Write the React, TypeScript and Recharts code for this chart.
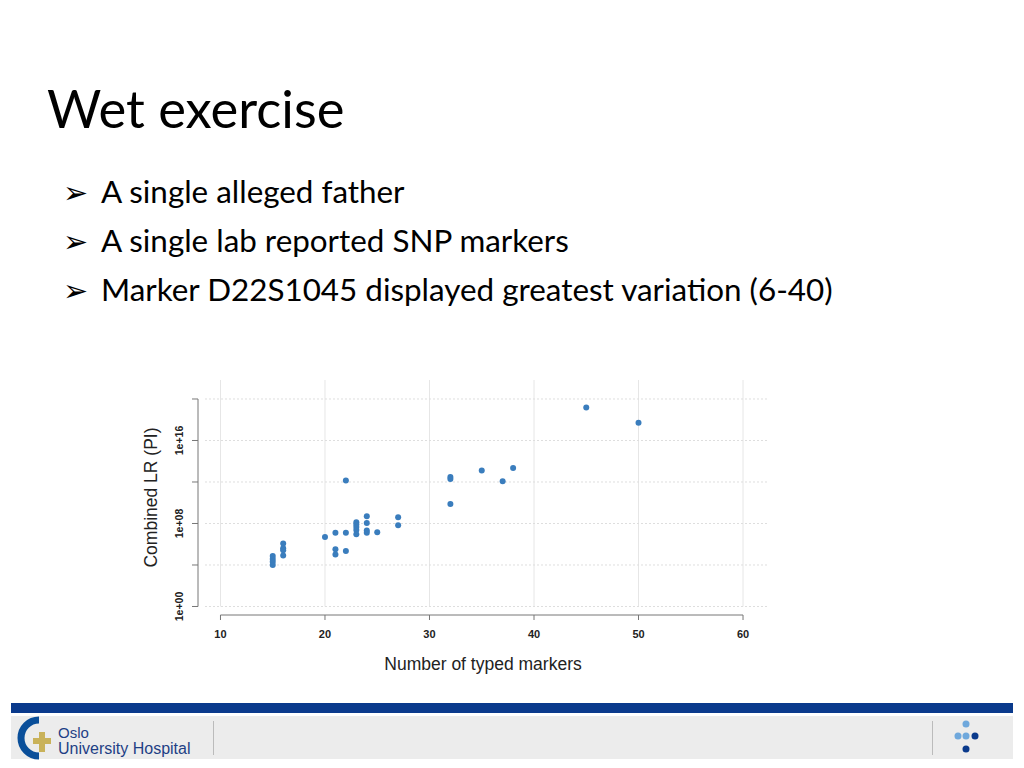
import { ScatterChart, Scatter, XAxis, YAxis, ReferenceLine, Label } from 'recharts'

// number of typed markers per case, and the combined LR (PI) reported for it
const markerCounts = [
  15, 15, 15, 15, 16, 16, 16, 16, 20, 21, 21, 21, 22, 22, 22, 23, 23, 23,
  23, 23, 24, 24, 24, 24, 25, 27, 27, 32, 32, 32, 35, 37, 38, 45, 50,
]
const combinedLR = [
  7.2e4, 3.7e4, 2.0e4, 9.8e3, 1.2e6, 4.0e5, 2.7e5, 8.3e4, 5.1e6, 1.3e7, 3.2e5,
  1.0e5, 1.4e12, 1.3e7, 2.2e5, 1.3e8, 7.9e7, 4.7e7, 2.3e7, 9.3e6, 5.0e8, 1.1e8,
  2.1e7, 1.3e7, 1.4e7, 4.0e8, 6.9e7, 3.0e12, 1.9e12, 7.6e9, 1.3e13, 1.2e12,
  2.2e13, 1.5e19, 5.0e17,
]

const xTicks = [10, 20, 30, 40, 50, 60]
const yTicks = [1, 1e4, 1e8, 1e12, 1e16, 1e20]
const yLabelled = [1, 1e8, 1e16]

const bullets = [
  'A single alleged father',
  'A single lab reported SNP markers',
  'Marker D22S1045 displayed greatest variation (6-40)',
]

const X_DOMAIN: [number, number] = [7.85, 62.39]
const Y_DOMAIN: [number, number] = [Math.pow(10, -0.82), Math.pow(10, 21.83)]

const points = markerCounts.map((x, i) => ({ x, y: combinedLR[i] }))

const fmtPower = (v: number) => {
  const p = Math.round(Math.log10(v))
  return `1e+${p < 10 ? '0' + p : p}`
}

const YTick = (props: any) => {
  const { x, y, payload } = props
  if (!yLabelled.includes(payload.value)) return <g />
  return (
    <text
      x={x}
      y={y}
      transform={`rotate(-90 ${x} ${y})`}
      textAnchor="middle"
      dominantBaseline="central"
      fontFamily="Liberation Sans, Arial, sans-serif"
      fontWeight="bold"
      fontSize={10.5}
      fill="#222"
    >
      {fmtPower(payload.value)}
    </text>
  )
}

function Logo() {
  return (
    <svg width={200} height={44} style={{ position: 'absolute', left: 11, top: 716 }}>
      <path d="M 28 4 A 17 17 0 1 0 28 40" stroke="#0a4f9a" strokeWidth={7} fill="none" />
      <rect x={22} y={22} width={18} height={6} fill="#c9b25a" />
      <rect x={28} y={16} width={6} height={20} fill="#c9b25a" />
      <text x={47} y={22} fontFamily="Liberation Sans Narrow, Arial, sans-serif" fontSize={15} fill="#1e3f85">
        Oslo
      </text>
      <text x={47} y={38} fontFamily="Liberation Sans Narrow, Arial, sans-serif" fontSize={16} fill="#1e3f85">
        University Hospital
      </text>
    </svg>
  )
}

export default function App() {
  return (
    <div style={{ position: 'absolute', left: 0, top: 0, width: 1024, height: 768, background: '#fff', overflow: 'hidden' }}>
      <div
        style={{
          position: 'absolute',
          left: 47,
          top: 75,
          fontFamily: 'Lato, sans-serif',
          fontSize: 52.5,
          lineHeight: '66px',
          color: '#000',
        }}
      >
        Wet exercise
      </div>

      {bullets.map((b, i) => (
        <div
          key={b}
          style={{
            position: 'absolute',
            left: 63,
            top: 169 + i * 49,
            fontSize: 31.4,
            lineHeight: '44px',
            whiteSpace: 'nowrap',
            color: '#000',
          }}
        >
          <span style={{ fontFamily: 'DejaVu Sans', fontSize: 30, display: 'inline-block', width: 38 }}>➢</span>
          <span style={{ fontFamily: 'Lato, sans-serif' }}>{b}</span>
        </div>
      ))}

      <ScatterChart
        width={1024}
        height={700}
        margin={{ top: 380, right: 256, left: 104, bottom: 27 }}
        style={{ position: 'absolute', left: 0, top: 0 }}
      >
        <XAxis
          type="number"
          dataKey="x"
          domain={X_DOMAIN}
          allowDataOverflow
          ticks={xTicks}
          interval={0}
          axisLine={false}
          tickLine={{ stroke: '#777' }}
          tickSize={5}
          tickMargin={10}
          height={58}
          tick={{ fontFamily: 'Liberation Sans, Arial, sans-serif', fontWeight: 'bold', fontSize: 11, fill: '#222' }}
        >
          <Label
            value="Number of typed markers"
            position="insideBottom"
            offset={3}
            fontFamily="Liberation Sans, Arial, sans-serif"
            fontSize={17.5}
            fill="#222"
          />
        </XAxis>
        <YAxis
          type="number"
          dataKey="y"
          scale="log"
          domain={Y_DOMAIN}
          allowDataOverflow
          ticks={yTicks}
          interval={0}
          axisLine={false}
          tickLine={{ stroke: '#777' }}
          tickSize={6}
          tickMargin={13}
          width={94}
          tick={<YTick />}
        >
          <Label
            value="Combined LR (PI)"
            angle={-90}
            position="center"
            fontFamily="Liberation Sans, Arial, sans-serif"
            fontSize={17.5}
            fill="#222"
          />
        </YAxis>

        {/* light grid, R style */}
        {xTicks.map((t) => (
          <ReferenceLine
            key={`v${t}`}
            segment={[{ x: t, y: 1 }, { x: t, y: Y_DOMAIN[1] }]}
            stroke="#e6e6e6"
            strokeWidth={1}
            ifOverflow="visible"
          />
        ))}
        {yTicks.map((t) => (
          <ReferenceLine
            key={`h${t}`}
            segment={[{ x: 8.52, y: t }, { x: X_DOMAIN[1], y: t }]}
            stroke="#dedede"
            strokeDasharray="2 2"
            strokeWidth={1}
            ifOverflow="visible"
          />
        ))}

        {/* axis lines span only the tick range */}
        <ReferenceLine
          segment={[{ x: 10, y: Y_DOMAIN[0] }, { x: 60, y: Y_DOMAIN[0] }]}
          stroke="#777"
          ifOverflow="visible"
        />
        <ReferenceLine
          segment={[{ x: X_DOMAIN[0], y: 1 }, { x: X_DOMAIN[0], y: 1e20 }]}
          stroke="#777"
          ifOverflow="visible"
        />

        <Scatter
          data={points}
          isAnimationActive={false}
          shape={(p: any) => <circle cx={p.cx} cy={p.cy} r={3} fill="#3a7dbd" />}
        />
      </ScatterChart>

      {/* footer */}
      <div style={{ position: 'absolute', left: 11, top: 703, width: 1002, height: 10, background: '#0a3a8c' }} />
      <div style={{ position: 'absolute', left: 11, top: 716, width: 1002, height: 43, background: '#ececec' }} />
      <Logo />
      <div style={{ position: 'absolute', left: 213, top: 721, width: 1, height: 34, background: '#bbb' }} />
      <div style={{ position: 'absolute', left: 932, top: 721, width: 1, height: 34, background: '#bbb' }} />
      <svg width={40} height={40} style={{ position: 'absolute', left: 946, top: 718 }}>
        <circle cx={20} cy={6} r={3.5} fill="#6fa8dc" />
        <circle cx={12} cy={18} r={3.5} fill="#6fa8dc" />
        <circle cx={20} cy={18} r={3.5} fill="#6fa8dc" />
        <circle cx={29} cy={18} r={3.5} fill="#0a3a8c" />
        <circle cx={20} cy={31} r={3.5} fill="#0a3a8c" />
      </svg>
    </div>
  )
}
